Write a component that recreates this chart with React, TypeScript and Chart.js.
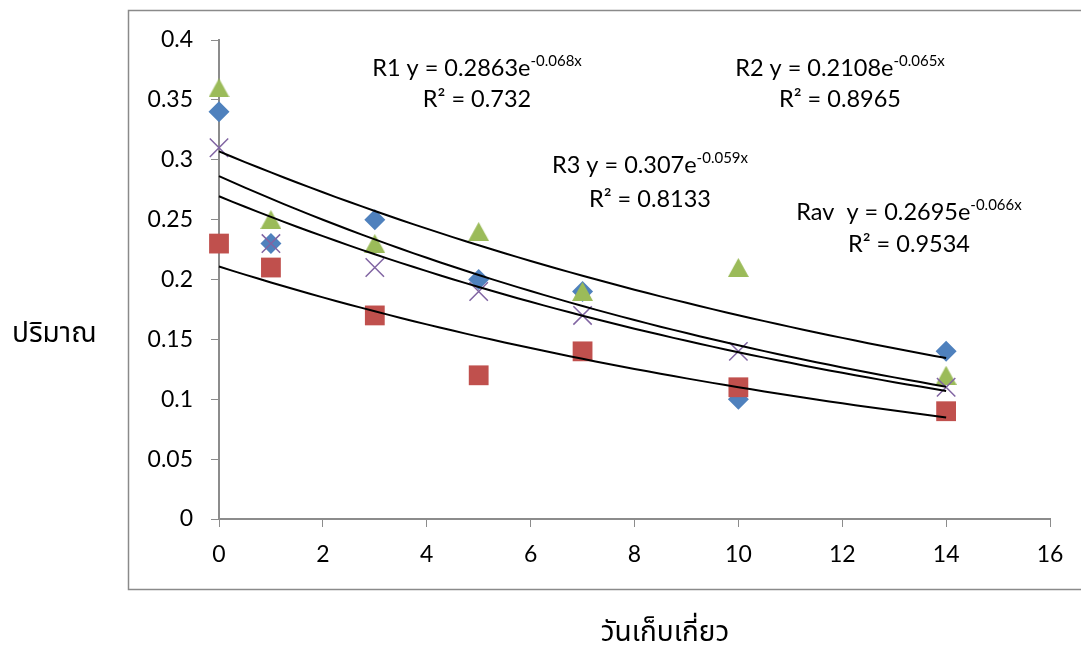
import React, { useEffect, useRef } from "react";
import { Chart, registerables } from "chart.js";

Chart.register(...registerables);

// ---- data ----
const days = [0, 1, 3, 5, 7, 10, 14];
const r1Values = [0.34, 0.23, 0.25, 0.2, 0.19, 0.1, 0.14];
const r2Values = [0.23, 0.21, 0.17, 0.12, 0.14, 0.11, 0.09];
const r3Values = [0.36, 0.25, 0.23, 0.24, 0.19, 0.21, 0.12];
const ravValues = [0.31, 0.23, 0.21, 0.19, 0.17, 0.14, 0.11];

// trendline coefficients y = a * e^(b x), as printed on the chart
const trendNames = ["R1", "R2", "R3", "Rav"];
const trendA = [0.2863, 0.2108, 0.307, 0.2695];
const trendB = [-0.068, -0.065, -0.059, -0.066];
const trendR2 = ["0.732", "0.8965", "0.8133", "0.9534"];
const trendMain = ["R1 y = 0.2863e", "R2 y = 0.2108e", "R3 y = 0.307e", "Rav  y = 0.2695e"];
const trendSup = ["-0.068x", "-0.065x", "-0.059x", "-0.066x"];

const xTitle = "วันเก็บเกี่ยว";
const yTitle = "ปริมาณ";

const FONT = "Lato, 'Noto Sans', sans-serif";
const THAI_FONT = "'Noto Sans Thai', 'Noto Sans', 'DejaVu Sans', sans-serif";

function trendPoints(a: number, b: number) {
  const pts: { x: number; y: number }[] = [];
  for (let i = 0; i <= 56; i++) {
    const x = i * 0.25;
    pts.push({ x, y: a * Math.exp(b * x) });
  }
  return pts;
}

const toXY = (vals: number[]) => vals.map((v, i) => ({ x: days[i], y: v }));

function makeTriangle(color: string) {
  const c = document.createElement("canvas");
  c.width = 21;
  c.height = 19;
  const g = c.getContext("2d")!;
  g.fillStyle = color;
  g.beginPath();
  g.moveTo(10.5, 0);
  g.lineTo(21, 19);
  g.lineTo(0, 19);
  g.closePath();
  g.fill();
  return c;
}

// label placement: [centerX, baseline1, baseline2]
const labelPos = [
  [477, 76, 107],
  [840, 76, 107],
  [650, 173, 207],
  [909, 220, 252],
];

const overlayPlugin = {
  id: "overlay",
  afterDraw(chart: any) {
    const ctx = chart.ctx as CanvasRenderingContext2D;
    ctx.save();
    // outer frame
    ctx.strokeStyle = "#8a8a8a";
    ctx.lineWidth = 1.5;
    ctx.strokeRect(128.5, 10.5, 1000, 579);

    ctx.fillStyle = "#000";
    // axis titles
    ctx.font = `28px ${THAI_FONT}`;
    ctx.textAlign = "left";
    ctx.textBaseline = "alphabetic";
    ctx.fillText(yTitle, 12, 342);
    ctx.textAlign = "center";
    ctx.fillText(xTitle, 665, 641);

    // trend equations
    for (let i = 0; i < trendMain.length; i++) {
      const [cx, b1, b2] = labelPos[i];
      ctx.font = `23.5px ${FONT}`;
      const wMain = ctx.measureText(trendMain[i]).width;
      ctx.font = `15px ${FONT}`;
      const wSup = ctx.measureText(trendSup[i]).width;
      const left = cx - (wMain + wSup) / 2;
      ctx.textAlign = "left";
      ctx.font = `23.5px ${FONT}`;
      ctx.fillText(trendMain[i], left, b1);
      ctx.font = `15px ${FONT}`;
      ctx.fillText(trendSup[i], left + wMain, b1 - 10);
      ctx.font = `23.5px ${FONT}`;
      ctx.textAlign = "center";
      ctx.fillText(`R² = ${trendR2[i]}`, cx, b2);
    }
    ctx.restore();
  },
};

export default function App() {
  const ref = useRef<HTMLCanvasElement | null>(null);
  useEffect(() => {
    if (!ref.current) return;
    const trendDatasets = trendNames.map((n, i) => ({
      type: "line" as const,
      label: n + " trend",
      data: trendPoints(trendA[i], trendB[i]),
      borderColor: "#000",
      borderWidth: 2,
      pointRadius: 0,
      fill: false,
      tension: 0,
      order: 0,
      clip: false,
    }));
    const chart = new Chart(ref.current, {
      type: "scatter",
      data: {
        datasets: [
          {
            label: "R1",
            data: toXY(r1Values),
            pointStyle: "rectRot",
            pointRadius: 10.5,
            backgroundColor: "#4F81BD",
            borderColor: "#4F81BD",
            borderWidth: 0,
            order: 4,
            clip: false,
          },
          {
            label: "R2",
            data: toXY(r2Values),
            pointStyle: "rect",
            pointRadius: 14,
            backgroundColor: "#C0504D",
            borderColor: "#C0504D",
            borderWidth: 0,
            order: 3,
            clip: false,
          },
          {
            label: "R3",
            data: toXY(r3Values),
            pointStyle: makeTriangle("#9BBB59"),
            pointRadius: 12,
            backgroundColor: "#9BBB59",
            borderColor: "#9BBB59",
            borderWidth: 0,
            order: 2,
            clip: false,
          },
          {
            label: "Rav",
            data: toXY(ravValues),
            pointStyle: "crossRot",
            pointRadius: 13,
            backgroundColor: "#8064A2",
            borderColor: "#8064A2",
            borderWidth: 1.5,
            order: 1,
            clip: false,
          },
          ...trendDatasets,
        ] as any,
      },
      options: {
        animation: false,
        responsive: false,
        events: [],
        layout: { padding: { top: 40, right: 31, left: 0, bottom: 0 } },
        plugins: { legend: { display: false }, tooltip: { enabled: false } },
        scales: {
          x: {
            type: "linear",
            min: 0,
            max: 16,
            afterFit: (s: any) => {
              s.height = 129;
            },
            ticks: {
              stepSize: 2,
              color: "#000",
              font: { family: FONT, size: 23 },
              padding: 14,
            },
            grid: {
              drawOnChartArea: false,
              color: "#8c8c8c",
              tickLength: 8,
            },
            border: { color: "#8c8c8c", width: 2 },
          },
          y: {
            type: "linear",
            min: 0,
            max: 0.4,
            afterFit: (s: any) => {
              s.width = 219;
            },
            ticks: {
              stepSize: 0.05,
              color: "#000",
              font: { family: FONT, size: 23 },
              padding: 18,
              callback: (v: any) => String(Number(Number(v).toFixed(2))),
            },
            grid: {
              drawOnChartArea: false,
              color: "#8c8c8c",
              tickLength: 8,
            },
            border: { color: "#8c8c8c", width: 2 },
          },
        },
      },
      plugins: [overlayPlugin],
    });
    return () => chart.destroy();
  }, []);
  return (
    <div style={{ position: "absolute", left: 0, top: 0, width: 1081, height: 648, background: "#fff" }}>
      <canvas ref={ref} width={1081} height={648} style={{ display: "block" }} />
    </div>
  );
}
